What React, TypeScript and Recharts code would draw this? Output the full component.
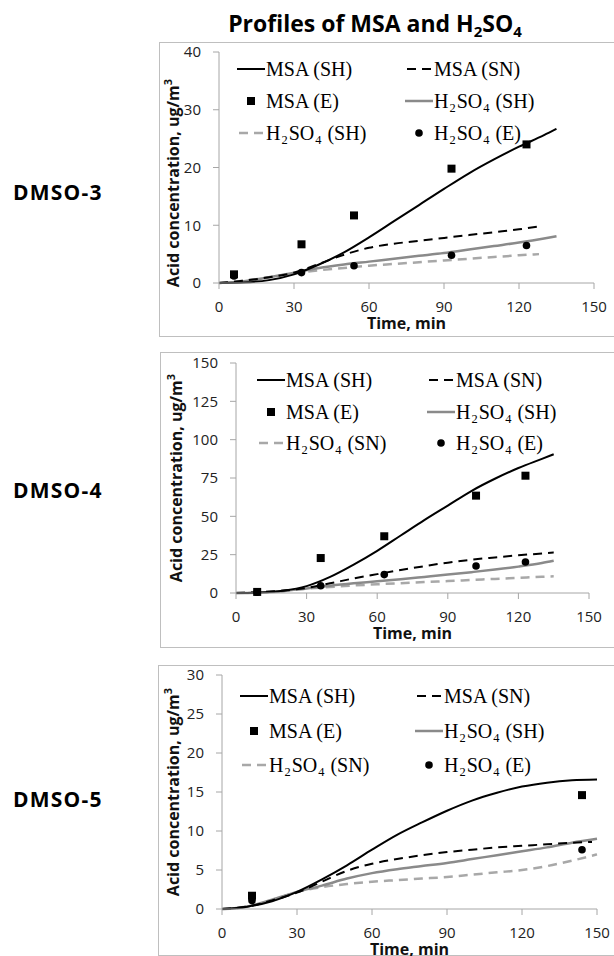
import React from "react";
import { ComposedChart, Line, Scatter, XAxis, YAxis, Legend } from "recharts";

const W = 614;
const X_TICKS = [0, 30, 60, 90, 120, 150];

// DMSO-3
const D3_T_SH = [0, 10, 20, 30, 40, 50, 60, 70, 80, 90, 100, 110, 120, 130, 135];
const D3_MSA_SH = [0, 0.1, 0.5, 1.5, 3.2, 5.3, 7.9, 10.7, 13.5, 16.3, 19.0, 21.4, 23.6, 25.6, 26.7];
const D3_H2SO4_SH = [0, 0.3, 1.0, 1.8, 2.6, 3.2, 3.7, 4.2, 4.7, 5.2, 5.8, 6.4, 7.0, 7.7, 8.1];
const D3_T_SN = [0, 10, 20, 30, 40, 50, 60, 70, 80, 90, 100, 110, 120, 128];
const D3_MSA_SN = [0, 0.4, 1.0, 1.8, 3.3, 4.9, 6.1, 6.8, 7.3, 7.8, 8.3, 8.8, 9.3, 9.8];
const D3_H2SO4_SN = [0, 0.4, 1.0, 1.7, 2.2, 2.6, 3.0, 3.3, 3.6, 3.9, 4.2, 4.5, 4.8, 5.0];
const D3_T_E = [6, 33, 54, 93, 123];
const D3_MSA_E = [1.5, 6.7, 11.7, 19.8, 24.0];
const D3_H2SO4_E = [1.2, 1.8, 3.0, 4.8, 6.5];
const D3_Y_TICKS = [0, 10, 20, 30, 40];

// DMSO-4
const D4_T = [0, 10, 20, 30, 40, 50, 60, 70, 80, 90, 100, 110, 120, 130, 135];
const D4_MSA_SH = [0, 0.3, 1.5, 4.5, 10.5, 18.5, 27.5, 37.5, 47.5, 57, 66.5, 74.5, 81.5, 87.5, 90.5];
const D4_H2SO4_SH = [0, 0.3, 1.2, 3.0, 4.8, 6.3, 7.6, 9.0, 10.5, 12.0, 13.6, 15.3, 17.2, 19.5, 21.0];
const D4_MSA_SN = [0, 0.5, 1.6, 3.3, 6.3, 9.5, 12.3, 15.0, 17.5, 19.8, 21.7, 23.2, 24.6, 25.8, 26.5];
const D4_H2SO4_SN = [0, 0.4, 1.3, 2.8, 3.9, 4.9, 5.7, 6.4, 7.1, 7.8, 8.5, 9.2, 9.9, 10.6, 10.9];
const D4_T_E = [9, 36, 63, 102, 123];
const D4_MSA_E = [0.7, 22.8, 37, 63.5, 76.5];
const D4_H2SO4_E = [0.5, 4.7, 12, 17.6, 20.2];
const D4_Y_TICKS = [0, 25, 50, 75, 100, 125, 150];

// DMSO-5
const D5_T = [0, 10, 20, 30, 40, 50, 60, 70, 80, 90, 100, 110, 120, 130, 140, 150];
const D5_MSA_SH = [0, 0.3, 1.0, 2.2, 3.8, 5.6, 7.6, 9.5, 11.1, 12.6, 13.9, 14.9, 15.7, 16.2, 16.5, 16.6];
const D5_H2SO4_SH = [0, 0.3, 1.2, 2.2, 3.0, 3.9, 4.6, 5.1, 5.5, 5.9, 6.4, 6.9, 7.4, 7.9, 8.5, 9.0];
const D5_H2SO4_SN = [0, 0.3, 1.1, 2.2, 2.8, 3.2, 3.5, 3.7, 3.9, 4.1, 4.4, 4.7, 5.0, 5.5, 6.2, 7.0];
const D5_T_SN = [0, 10, 20, 30, 40, 50, 60, 70, 80, 90, 100, 110, 120, 130, 140, 148];
const D5_MSA_SN = [0, 0.3, 1.1, 2.1, 3.5, 4.9, 5.8, 6.4, 6.9, 7.3, 7.6, 7.9, 8.1, 8.3, 8.5, 8.6];
const D5_T_E = [12, 144];
const D5_MSA_E = [1.7, 14.6];
const D5_H2SO4_E = [1.1, 7.6];
const D5_Y_TICKS = [0, 5, 10, 15, 20, 25, 30];

const LEGEND_D3 = ["MSA (SH)", "MSA (SN)", "MSA (E)", "H2SO4 (SH)", "H2SO4 (SH)", "H2SO4 (E)"];
const LEGEND_D45 = ["MSA (SH)", "MSA (SN)", "MSA (E)", "H2SO4 (SH)", "H2SO4 (SN)", "H2SO4 (E)"];
const ICONS = ["line", "dash", "square", "grayLine", "grayDash", "circle"];

const zip = (t: number[], v: number[]) => t.map((x, i) => ({ t: x, v: v[i] }));

const AXIS = "#a6a6a6";
const FRAME = "#d9d9d9";
const GRAY = "#8a8a8a";
const GRAY_DASH = "#a8a8a8";

const PANELS = [
  {
    name: "DMSO-3", nameY: 200, top: 42, height: 295, boxLeft: 159,
    plot: { l: 219, r: 594, t: 52, b: 283 }, yMax: 40, yTicks: D3_Y_TICKS,
    yLabelX: 173, yLabelY: 183, legendRows: [17, 49, 81], legendCols: [18, 186], legend: LEGEND_D3,
    msaSH: zip(D3_T_SH, D3_MSA_SH), h2SH: zip(D3_T_SH, D3_H2SO4_SH),
    msaSN: zip(D3_T_SN, D3_MSA_SN), h2SN: zip(D3_T_SN, D3_H2SO4_SN),
    msaE: zip(D3_T_E, D3_MSA_E), h2E: zip(D3_T_E, D3_H2SO4_E),
  },
  {
    name: "DMSO-4", nameY: 498, top: 352, height: 296, boxLeft: 160,
    plot: { l: 236, r: 589, t: 363, b: 593 }, yMax: 150, yTicks: D4_Y_TICKS,
    yLabelX: 176, yLabelY: 478, legendRows: [17, 49, 80], legendCols: [21, 191], legend: LEGEND_D45,
    msaSH: zip(D4_T, D4_MSA_SH), h2SH: zip(D4_T, D4_H2SO4_SH),
    msaSN: zip(D4_T, D4_MSA_SN), h2SN: zip(D4_T, D4_H2SO4_SN),
    msaE: zip(D4_T_E, D4_MSA_E), h2E: zip(D4_T_E, D4_H2SO4_E),
  },
  {
    name: "DMSO-5", nameY: 807, top: 665, height: 291, boxLeft: 158,
    plot: { l: 222, r: 597, t: 675, b: 909 }, yMax: 30, yTicks: D5_Y_TICKS,
    yLabelX: 173, yLabelY: 792, legendRows: [21, 56, 90], legendCols: [18, 193], legend: LEGEND_D45,
    msaSH: zip(D5_T, D5_MSA_SH), h2SH: zip(D5_T, D5_H2SO4_SH),
    msaSN: zip(D5_T_SN, D5_MSA_SN), h2SN: zip(D5_T, D5_H2SO4_SN),
    msaE: zip(D5_T_E, D5_MSA_E), h2E: zip(D5_T_E, D5_H2SO4_E),
  },
];

function Chem({ s }: { s: string }) {
  const out: React.ReactNode[] = [];
  for (let i = 0; i < s.length; i++) {
    const c = s[i];
    if (/\d/.test(c) && i > 0 && /[A-Z]/.test(s[i - 1])) {
      out.push(
        <span key={i} style={{ fontSize: "0.62em", position: "relative", top: 4, margin: "0 1px" }}>{c}</span>
      );
    } else out.push(c);
  }
  return <>{out}</>;
}

function Icon({ kind }: { kind: string }) {
  return (
    <svg width={30} height={12} style={{ position: "absolute", left: 0, top: -6 }}>
      {kind === "line" && <line x1={0} x2={28} y1={6} y2={6} stroke="#000" strokeWidth={2} />}
      {kind === "dash" && <line x1={2} x2={27} y1={6} y2={6} stroke="#000" strokeWidth={2} strokeDasharray="9 6" />}
      {kind === "grayLine" && <line x1={0} x2={28} y1={6} y2={6} stroke={GRAY} strokeWidth={2.5} />}
      {kind === "grayDash" && <line x1={2} x2={27} y1={6} y2={6} stroke={GRAY_DASH} strokeWidth={2.5} strokeDasharray="9 6" />}
      {kind === "square" && <rect x={10} y={2} width={8} height={8} fill="#000" />}
      {kind === "circle" && <circle cx={14} cy={6} r={3.8} fill="#000" />}
    </svg>
  );
}

function LegendGrid({ p }: { p: (typeof PANELS)[number] }) {
  return (
    <div style={{ position: "relative", width: 380, height: 110 }}>
      {p.legend.map((lab, i) => {
        const row = Math.floor(i / 2);
        const col = i % 2;
        return (
          <div key={i} style={{ position: "absolute", left: p.legendCols[col], top: p.legendRows[row] }}>
            <Icon kind={ICONS[i]} />
            <span
              style={{
                position: "absolute", left: 29, top: -12, whiteSpace: "nowrap",
                fontFamily: "'Liberation Serif', 'Times New Roman', serif", fontSize: 20,
                lineHeight: "24px", color: "#000",
              }}
            >
              <Chem s={lab} />
            </span>
          </div>
        );
      })}
    </div>
  );
}

const square = (props: any) => <rect x={props.cx - 4} y={props.cy - 4} width={8} height={8} fill="#000" />;
const circle = (props: any) => <circle cx={props.cx} cy={props.cy} r={3.8} fill="#000" />;

const tickFont = { fontFamily: "'Open Sans', sans-serif", fontSize: 15, fill: "#222" };

function Panel({ p }: { p: (typeof PANELS)[number] }) {
  const { plot, top, height } = p;
  const margin = {
    top: plot.t - top,
    right: W - plot.r,
    left: plot.l - 60,
    bottom: height - (plot.b - top) - 40,
  };
  const midX = (plot.l + plot.r) / 2;
  return (
    <>
      <div
        style={{
          position: "absolute", left: p.boxLeft, top, width: W - p.boxLeft + 20, height,
          border: "1px solid #bfbfbf", boxSizing: "border-box",
        }}
      />
      <div style={{ position: "absolute", left: 0, top, width: W, height }}>
        <ComposedChart width={W} height={height} margin={margin}>
          <XAxis
            dataKey="t" type="number" domain={[0, 150]} ticks={X_TICKS} allowDuplicatedCategory={false}
            height={40} stroke={AXIS} tickSize={6} tickMargin={12} tick={tickFont}
            label={{
              content: () => (
                <text
                  x={midX} y={plot.b - top + 40} textAnchor="middle" dominantBaseline="central"
                  style={{ fontFamily: "'Open Sans', sans-serif", fontSize: 16, fontWeight: 700, fill: "#111" }}
                >
                  Time, min
                </text>
              ),
            }}
          />
          <XAxis xAxisId="top" orientation="top" type="number" domain={[0, 150]} height={0} tick={false} tickLine={false} axisLine={{ stroke: FRAME }} />
          <YAxis
            type="number" domain={[0, p.yMax]} ticks={p.yTicks} width={60} stroke={AXIS}
            tickSize={6} tickMargin={12} tick={tickFont}
            label={{
              content: () => (
                <text
                  x={p.yLabelX} y={p.yLabelY - top} textAnchor="middle" dominantBaseline="central"
                  transform={`rotate(-90 ${p.yLabelX} ${p.yLabelY - top})`}
                  style={{ fontFamily: "'Open Sans', sans-serif", fontSize: 16, fontWeight: 700, fill: "#111" }}
                >
                  Acid concentration, ug/m<tspan dy={-6} fontSize={11}>3</tspan>
                </text>
              ),
            }}
          />
          <YAxis yAxisId="right" orientation="right" type="number" domain={[0, p.yMax]} width={0} tick={false} tickLine={false} axisLine={{ stroke: FRAME }} />
          <Legend
            layout="horizontal" verticalAlign="middle" align="center"
            wrapperStyle={{ left: plot.l, top: plot.t - top, width: 380, height: 110 }}
            content={() => <LegendGrid p={p} />}
          />
          <Line data={p.h2SN} dataKey="v" type="monotone" stroke={GRAY_DASH} strokeWidth={2.5} strokeDasharray="9 6" dot={false} isAnimationActive={false} />
          <Line data={p.h2SH} dataKey="v" type="monotone" stroke={GRAY} strokeWidth={2.5} dot={false} isAnimationActive={false} />
          <Line data={p.msaSN} dataKey="v" type="monotone" stroke="#000" strokeWidth={2} strokeDasharray="9 6" dot={false} isAnimationActive={false} />
          <Line data={p.msaSH} dataKey="v" type="monotone" stroke="#000" strokeWidth={2} dot={false} isAnimationActive={false} />
          <Scatter data={p.msaE} dataKey="v" shape={square} isAnimationActive={false} />
          <Scatter data={p.h2E} dataKey="v" shape={circle} isAnimationActive={false} />
        </ComposedChart>
      </div>
    </>
  );
}

export default function App() {
  return (
    <div style={{ position: "absolute", left: 0, top: 0, width: W, height: 956, overflow: "hidden", background: "#fff" }}>
      <svg width={W} height={956} style={{ position: "absolute", left: 0, top: 0 }}>
        <text x={375} y={32} textAnchor="middle" style={{ fontFamily: "'Open Sans', sans-serif", fontSize: 23, fontWeight: 700, fill: "#000" }}>
          Profiles of MSA and H<tspan fontSize={15} dy={5}>2</tspan><tspan dy={-5}>SO</tspan><tspan fontSize={15} dy={5}>4</tspan>
        </text>
        {PANELS.map((p) => (
          <text key={p.name} x={13} y={p.nameY} style={{ fontFamily: "'Open Sans', sans-serif", fontSize: 21, fontWeight: 700, letterSpacing: 1.2, fill: "#000" }}>
            {p.name}
          </text>
        ))}
      </svg>
      {PANELS.map((p) => (
        <Panel key={p.name} p={p} />
      ))}
    </div>
  );
}
